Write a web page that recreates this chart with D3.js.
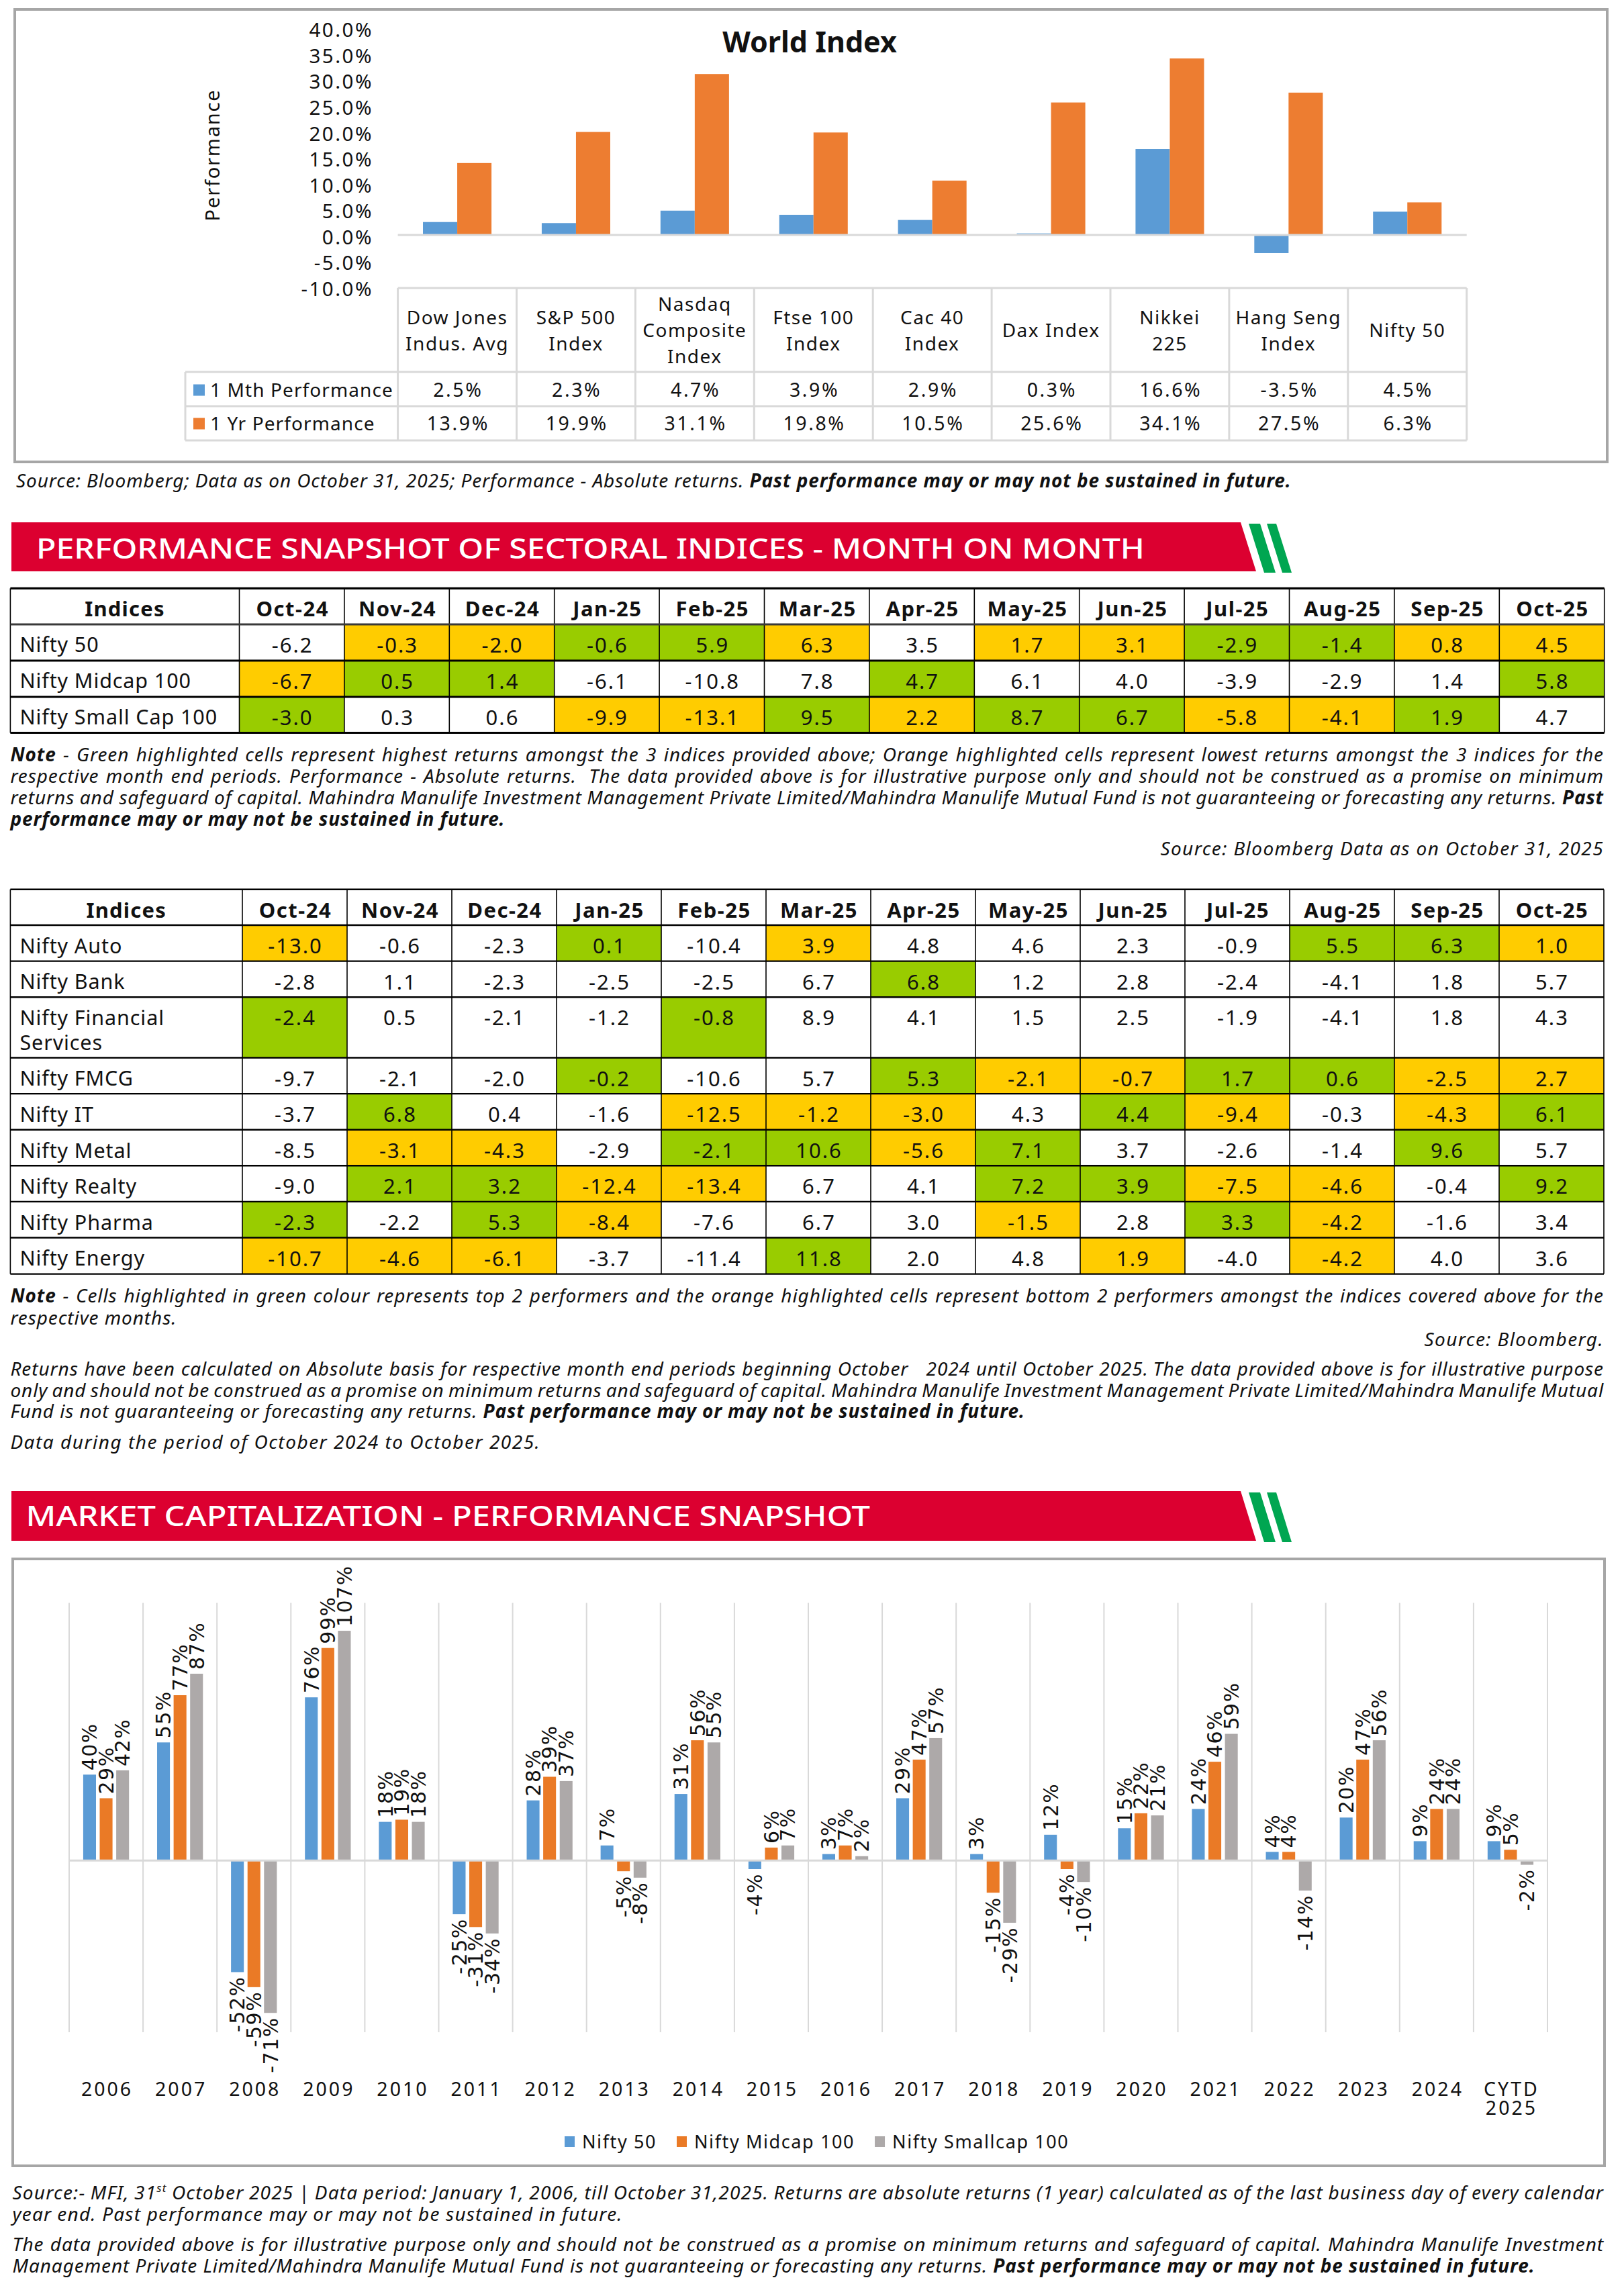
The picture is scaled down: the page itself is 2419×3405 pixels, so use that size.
<!DOCTYPE html>
<html><head><meta charset="utf-8">
<script src="https://cdn.jsdelivr.net/npm/d3@7"></script>
<style>
html,body{margin:0;padding:0;background:#fff;}
svg{display:block;}
</style></head><body>
<svg id="c" width="2419" height="3405"></svg>
<script>
// ================= DATA =================
const worldCats = [["Dow Jones","Indus. Avg"],["S&P 500","Index"],["Nasdaq","Composite","Index"],["Ftse 100","Index"],["Cac 40","Index"],["Dax Index"],["Nikkei","225"],["Hang Seng","Index"],["Nifty 50"]];
const worldSeries = ["1 Mth Performance","1 Yr Performance"];
const worldMonth = [2.5,2.3,4.7,3.9,2.9,0.3,16.6,-3.5,4.5];
const worldYear = [13.9,19.9,31.1,19.8,10.5,25.6,34.1,27.5,6.3];
const worldTicks = [40,35,30,25,20,15,10,5,0,-5,-10];

const months = ["Oct-24","Nov-24","Dec-24","Jan-25","Feb-25","Mar-25","Apr-25","May-25","Jun-25","Jul-25","Aug-25","Sep-25","Oct-25"];

const t1Rows = [["Nifty 50"],["Nifty Midcap 100"],["Nifty Small Cap 100"]];
const t1Values = [
  [-6.2,-0.3,-2.0,-0.6,5.9,6.3,3.5,1.7,3.1,-2.9,-1.4,0.8,4.5],
  [-6.7,0.5,1.4,-6.1,-10.8,7.8,4.7,6.1,4.0,-3.9,-2.9,1.4,5.8],
  [-3.0,0.3,0.6,-9.9,-13.1,9.5,2.2,8.7,6.7,-5.8,-4.1,1.9,4.7]
];
const t1Marks = ["-YYGGY-YYGGYY","YGG---G-----G","G--YYGYGGYYG-"];

const t2Rows = [["Nifty Auto"],["Nifty Bank"],["Nifty Financial","Services"],["Nifty FMCG"],["Nifty IT"],["Nifty Metal"],["Nifty Realty"],["Nifty Pharma"],["Nifty Energy"]];
const t2Values = [
  [-13.0,-0.6,-2.3,0.1,-10.4,3.9,4.8,4.6,2.3,-0.9,5.5,6.3,1.0],
  [-2.8,1.1,-2.3,-2.5,-2.5,6.7,6.8,1.2,2.8,-2.4,-4.1,1.8,5.7],
  [-2.4,0.5,-2.1,-1.2,-0.8,8.9,4.1,1.5,2.5,-1.9,-4.1,1.8,4.3],
  [-9.7,-2.1,-2.0,-0.2,-10.6,5.7,5.3,-2.1,-0.7,1.7,0.6,-2.5,2.7],
  [-3.7,6.8,0.4,-1.6,-12.5,-1.2,-3.0,4.3,4.4,-9.4,-0.3,-4.3,6.1],
  [-8.5,-3.1,-4.3,-2.9,-2.1,10.6,-5.6,7.1,3.7,-2.6,-1.4,9.6,5.7],
  [-9.0,2.1,3.2,-12.4,-13.4,6.7,4.1,7.2,3.9,-7.5,-4.6,-0.4,9.2],
  [-2.3,-2.2,5.3,-8.4,-7.6,6.7,3.0,-1.5,2.8,3.3,-4.2,-1.6,3.4],
  [-10.7,-4.6,-6.1,-3.7,-11.4,11.8,2.0,4.8,1.9,-4.0,-4.2,4.0,3.6]
];
const t2Marks = ["Y--G-Y----GGY","------G------","G---G--------","---G--GYYGGYY","-G--YYY-GY-YG","-YY-GGYG---G-","-GGYY--GGYY-G","G-GY---Y-GY--","YYY--G--Y-Y--"];

const mcYears = ["2006","2007","2008","2009","2010","2011","2012","2013","2014","2015","2016","2017","2018","2019","2020","2021","2022","2023","2024","CYTD 2025"];
const mcSeries = ["Nifty 50","Nifty Midcap 100","Nifty Smallcap 100"];
const mcNifty50 = [40,55,-52,76,18,-25,28,7,31,-4,3,29,3,12,15,24,4,20,9,9];
const mcMidcap = [29,77,-59,99,19,-31,39,-5,56,6,7,47,-15,-4,22,46,4,47,24,5];
const mcSmallcap = [42,87,-71,107,18,-34,37,-8,55,7,2,57,-29,-10,21,59,-14,56,24,-2];

const srcWorld = ["Source: Bloomberg; Data as on October 31, 2025; Performance - Absolute returns. §Past performance may or may not be sustained in future.§"];
const note1Lines = [
 "§Note§ - Green highlighted cells represent highest returns amongst the 3 indices provided above; Orange highlighted cells represent lowest returns amongst the 3 indices for the",
 "respective month end periods. Performance - Absolute returns.  The data provided above is for illustrative purpose only and should not be construed as a promise on minimum",
 "returns and safeguard of capital. Mahindra Manulife Investment Management Private Limited/Mahindra Manulife Mutual Fund is not guaranteeing or forecasting any returns. §Past§",
 "§performance may or may not be sustained in future.§"
];
const note1Source = "Source: Bloomberg Data as on October 31, 2025";
const note2Lines = [
 "§Note§ - Cells highlighted in green colour represents top 2 performers and the orange highlighted cells represent bottom 2 performers amongst the indices covered above for the",
 "respective months."
];
const note2Source = "Source: Bloomberg.";
const note3Lines = [
 "Returns have been calculated on Absolute basis for respective month end periods beginning October   2024 until October 2025. The data provided above is for illustrative purpose",
 "only and should not be construed as a promise on minimum returns and safeguard of capital. Mahindra Manulife Investment Management Private Limited/Mahindra Manulife Mutual",
 "Fund is not guaranteeing or forecasting any returns. §Past performance may or may not be sustained in future.§"
];
const note4 = "Data during the period of October 2024 to October 2025.";
const footLines = [
 "Source:- MFI, 31^st^ October 2025 | Data period: January 1, 2006, till October 31,2025. Returns are absolute returns (1 year) calculated as of the last business day of every calendar",
 "year end. Past performance may or may not be sustained in future.",
 "The data provided above is for illustrative purpose only and should not be construed as a promise on minimum returns and safeguard of capital. Mahindra Manulife Investment",
 "Management Private Limited/Mahindra Manulife Mutual Fund is not guaranteeing or forecasting any returns. §Past performance may or may not be sustained in future.§"
];
const banner1 = "PERFORMANCE SNAPSHOT OF SECTORAL INDICES - MONTH ON MONTH";
const banner2 = "MARKET CAPITALIZATION - PERFORMANCE SNAPSHOT";

// ================= STYLE =================
const FONT = "'Noto Sans', 'DejaVu Sans', sans-serif";
const INK = "#111";
const BLUE = "#5B9BD5", ORANGE = "#ED7D31";
const MC_COLORS = ["#5B9BD5","#EA7A26","#ADA9A9"];
const YEL = "#FFCC00", GRN = "#99CC00";
const RED = "#DC0030", STRIPE = "#00A651";
const GRID = "#D9D9D9";
const NOTE = {size:28, ls:0.9};

const svg = d3.select("#c").attr("font-family", FONT);
svg.append("rect").attr("width",2419).attr("height",3405).attr("fill","#fff");

// ---------- rich text line helper ----------
function richLine(g, str, x0, x1, cy, o) {
  const size = o.size, ls = o.ls || 0;
  const t = g.append("text").attr("y", cy + 0.357*size).attr("font-size", size)
    .attr("font-style", o.italic === false ? "normal" : "italic").attr("fill", INK)
    .attr("letter-spacing", ls);
  let bold = false;
  const tokens = str.split(" ");
  const words = tokens.map(w => {
    const pieces = []; let sup = false; let buf = "";
    for (const ch of w) {
      if (ch === "§") { if (buf) pieces.push({t:buf,b:bold,s:sup}); buf=""; bold=!bold; }
      else if (ch === "^") { if (buf) pieces.push({t:buf,b:bold,s:sup}); buf=""; sup=!sup; }
      else buf += ch;
    }
    if (buf) pieces.push({t:buf,b:bold,s:sup});
    return pieces;
  });
  let shifted = false;
  const wEls = words.map(pieces => pieces.map(p => {
    const ts = t.append("tspan").text(p.t).attr("font-weight", p.b ? 700 : 400);
    if (p.s) { ts.attr("font-size", size*0.6); if (!shifted) { ts.attr("dy", -size*0.38); shifted = true; } }
    else if (shifted) { ts.attr("dy", size*0.38); shifted = false; }
    return ts;
  }));
  const widths = wEls.map(arr => d3.sum(arr, ts => ts.node().getComputedTextLength()));
  const n = words.length;
  const sumW = d3.sum(widths);
  let gap = 0.26*size + ls;
  let x = x0;
  if (o.align === "justify" && n > 1) gap = (x1 - x0 - sumW) / (n - 1);
  else if (o.align === "end") x = x1 - (sumW + gap*(n-1));
  wEls.forEach((arr, i) => {
    if (arr.length) arr[0].attr("x", x);
    x += widths[i] + gap;
  });
  return t;
}
function paragraph(g, lines, x0, x1, cy0, lh, o) {
  lines.forEach((ln, i) => {
    const last = i === lines.length - 1;
    richLine(g, ln, x0, x1, cy0 + i*lh, Object.assign({}, o, {align: (o.justify && !last) ? "justify" : (o.align || "start")}));
  });
}

// ================= WORLD INDEX CHART =================
const gW = svg.append("g");
gW.append("rect").attr("x",22).attr("y",14).attr("width",2372).attr("height",674)
  .attr("fill","none").attr("stroke","#A6A6A6").attr("stroke-width",4);
gW.append("text").attr("x",1206).attr("y",78).attr("text-anchor","middle")
  .attr("font-size",43).attr("font-weight",700).attr("fill",INK).text("World Index");
gW.append("text").attr("transform","translate(327,231) rotate(-90)").attr("text-anchor","middle")
  .attr("font-size",29).attr("letter-spacing",1.8).attr("fill",INK).text("Performance");

const xW = d3.scaleBand().domain(d3.range(worldCats.length)).range([592.6,2184.7]);
const bwW = xW.bandwidth();
const xWs = d3.scaleBand().domain([0,1]).range([bwW*0.2115, bwW*0.7885]);
const yW = d3.scaleLinear().domain([-10,40]).range([427.1,41.6]);

const axW = gW.append("g").attr("transform","translate(559,0)")
  .call(d3.axisLeft(yW).tickValues(worldTicks).tickSize(0).tickPadding(3).tickFormat(d => d.toFixed(1) + "%"));
axW.select(".domain").remove();
axW.selectAll("text").attr("font-size",29.5).attr("font-family",FONT).attr("fill",INK)
  .attr("letter-spacing",2.5).attr("dy","0.45em");

const worldData = worldCats.map((c,i) => ({i, vals:[worldMonth[i], worldYear[i]]}));
gW.selectAll("g.wb").data(worldData).join("g").attr("class","wb")
  .attr("transform", d => `translate(${xW(d.i)},0)`)
  .selectAll("rect").data(d => d.vals.map((v,s) => ({v,s}))).join("rect")
  .attr("x", d => xWs(d.s)).attr("width", xWs.bandwidth())
  .attr("y", d => yW(Math.max(0,d.v))).attr("height", d => Math.abs(yW(d.v) - yW(0)))
  .attr("fill", d => d.s === 0 ? BLUE : ORANGE);
gW.append("line").attr("x1",592.6).attr("x2",2184.7).attr("y1",yW(0)).attr("y2",yW(0))
  .attr("stroke",GRID).attr("stroke-width",3);

// data table under world chart
const tbTop = 429, tbHead = 554, tbR1 = 605, tbBot = 656, tbLeft = 276;
const gT = gW.append("g");
[[592.6,tbTop],[tbLeft,tbHead],[tbLeft,tbR1],[tbLeft,tbBot]].forEach(([xa,yy]) =>
  gT.append("line").attr("x1",xa).attr("x2",2184.7).attr("y1",yy).attr("y2",yy).attr("stroke",GRID).attr("stroke-width",3));
d3.range(worldCats.length+1).forEach(k => {
  const xx = 592.6 + k*bwW;
  gT.append("line").attr("x1",xx).attr("x2",xx).attr("y1",tbTop).attr("y2",tbBot).attr("stroke",GRID).attr("stroke-width",3);
});
gT.append("line").attr("x1",tbLeft).attr("x2",tbLeft).attr("y1",tbHead).attr("y2",tbBot).attr("stroke",GRID).attr("stroke-width",3);
worldCats.forEach((lines,i) => {
  const cx = xW(i) + bwW/2;
  lines.forEach((ln,k) => {
    const cy = 492.5 + (k - (lines.length-1)/2) * 39;
    gT.append("text").attr("x",cx).attr("y",cy + 0.357*28).attr("text-anchor","middle")
      .attr("font-size",28).attr("letter-spacing",1.5).attr("fill",INK).text(ln);
  });
});
[worldMonth, worldYear].forEach((arr,s) => {
  const cy = s === 0 ? 581 : 631;
  gT.append("rect").attr("x",288).attr("y",cy-8.5).attr("width",17).attr("height",17).attr("fill", s===0?BLUE:ORANGE);
  gT.append("text").attr("x",313).attr("y",cy + 0.357*28).attr("font-size",28).attr("letter-spacing",1.1)
    .attr("fill",INK).text(worldSeries[s]);
  gT.selectAll(null).data(arr).join("text")
    .attr("x",(d,i) => xW(i) + bwW/2 + 1.3).attr("y", cy + 0.357*28).attr("text-anchor","middle")
    .attr("font-size",28.5).attr("letter-spacing",2.6).attr("fill",INK).text(d => d.toFixed(1) + "%");
});
paragraph(svg.append("g"), srcWorld, 24, 2389, 716, 32, NOTE);

// ================= BANNERS =================
function banner(y0, y1, text, tx, tEnd, base) {
  const g = svg.append("g");
  g.append("polygon").attr("points", `17,${y0} 1848,${y0} 1871,${y1} 17,${y1}`).attr("fill", RED);
  const sl = (1871-1848)/(y1-y0);
  [[1860,1877],[1887,1901]].forEach(([a,b]) => {
    const ya = y0 + 2, yb = y1 + 2;
    const dx = sl*(yb-ya);
    g.append("polygon").attr("points", `${a},${ya} ${b},${ya} ${b+dx},${yb} ${a+dx},${yb}`).attr("fill", STRIPE);
  });
  g.append("text").attr("x",tx).attr("y",base).attr("font-size",42).attr("font-weight",500)
    .attr("fill","#fff").attr("textLength", tEnd - tx).attr("lengthAdjust","spacingAndGlyphs").text(text);
}
banner(778, 851, banner1, 54, 1705, 832);

// ================= TABLES =================
function drawTable(cfg) {
  const g = svg.append("g");
  const xs = d3.scaleBand().domain(months).range([cfg.xFirst, cfg.xRight]);
  const bw = xs.bandwidth();
  const ys = cfg.rowY;
  cfg.rows.forEach((r,i) => {
    months.forEach((m,j) => {
      const mk = cfg.marks[i][j];
      if (mk !== "-") g.append("rect").attr("x", xs(m)).attr("y", ys[i+1]).attr("width", bw)
        .attr("height", ys[i+2]-ys[i+1]).attr("fill", mk === "G" ? GRN : YEL);
    });
  });
  const hc = ys[0] + cfg.textOff;
  g.append("text").attr("x",(cfg.xLeft+cfg.xFirst)/2).attr("y",hc + 0.357*31).attr("text-anchor","middle")
    .attr("font-size",31).attr("font-weight",700).attr("letter-spacing",1.2).attr("fill",INK).text("Indices");
  g.selectAll(null).data(months).join("text").attr("x", d => xs(d)+bw/2+1).attr("y", hc + 0.357*31)
    .attr("text-anchor","middle").attr("font-size",31).attr("font-weight",700).attr("letter-spacing",1.5)
    .attr("fill",INK).text(d => d);
  cfg.rows.forEach((lines,i) => {
    const cy = ys[i+1] + cfg.textOff;
    const lt = g.append("text").attr("y", cy + 0.357*30.5)
      .attr("font-size",30.5).attr("letter-spacing",0.9).attr("fill",INK);
    lines.forEach((ln,k) => lt.append("tspan").attr("x", cfg.xLeft + 14).attr("dy", k === 0 ? 0 : 37).text(ln));
    g.selectAll(null).data(cfg.values[i]).join("text").attr("x",(d,j) => xs(months[j]) + bw/2 + 1)
      .attr("y", cy + 0.357*31).attr("text-anchor","middle").attr("font-size",31).attr("letter-spacing",2.0)
      .attr("fill",INK).text(d => d.toFixed(1));
  });
  const xBounds = [cfg.xLeft, cfg.xFirst].concat(months.map(m => xs(m)+bw));
  xBounds.forEach(xx => g.append("line").attr("x1",xx).attr("x2",xx).attr("y1",ys[0]).attr("y2",ys[ys.length-1])
    .attr("stroke","#000").attr("stroke-width",1.6));
  ys.forEach((yy,k) => g.append("line").attr("x1",cfg.xLeft).attr("x2",cfg.xRight).attr("y1",yy).attr("y2",yy)
    .attr("stroke", (k===1 && cfg.headGray) ? "#3a3a3a" : "#000").attr("stroke-width", cfg.hw));
}
drawTable({xLeft:15.4, xFirst:356.5, xRight:2389.7, rowY:[876.4,930,984,1038,1091.5], rows:t1Rows,
  values:t1Values, marks:t1Marks, textOff:30.5, hw:3.2, headGray:true});

const np = svg.append("g");
paragraph(np, note1Lines, 15.4, 2389, 1124, 32, Object.assign({justify:true}, NOTE));
richLine(np, note1Source, 15.4, 2389, 1264.5, Object.assign({}, NOTE, {align:"end", ls:1.4}));

drawTable({xLeft:15.4, xFirst:361, xRight:2389, rowY:[1324.7,1378,1431.6,1485.2,1575.5,1629.1,1682.7,1736.3,1789.9,1843.5,1897.6],
  rows:t2Rows, values:t2Values, marks:t2Marks, textOff:31, hw:2.4, headGray:false});

paragraph(np, note2Lines, 15.4, 2389, 1929.7, 33, Object.assign({justify:true}, NOTE));
richLine(np, note2Source, 15.4, 2389, 1994.6, Object.assign({}, NOTE, {align:"end", ls:1.4}));
paragraph(np, note3Lines, 15.4, 2389, 2039, 31.7, Object.assign({justify:true}, NOTE));
richLine(np, note4, 15.4, 2389, 2148.5, Object.assign({}, NOTE, {ls:1.5}));

// ================= MARKET CAP CHART =================
banner(2221, 2295, banner2, 38.6, 1296, 2273);
const gM = svg.append("g");
gM.append("rect").attr("x",19).attr("y",2322).attr("width",2371).attr("height",904)
  .attr("fill","none").attr("stroke","#A6A6A6").attr("stroke-width",4);
const mcX = d3.scaleBand().domain(mcYears).range([103,2305]);
const mbw = mcX.bandwidth();
const mcSub = d3.scaleBand().domain([0,1,2]).range([mbw*0.19, mbw*0.81]).paddingInner(0.2245);
const mcY = d3.scaleLinear().domain([-80,120]).range([3027,2387.5]);
gM.selectAll("line.vg").data(d3.range(mcYears.length+1)).join("line").attr("class","vg")
  .attr("x1", k => 103 + k*mbw).attr("x2", k => 103 + k*mbw).attr("y1", mcY(120)).attr("y2", mcY(-80))
  .attr("stroke", GRID).attr("stroke-width", 2);
const mcData = mcYears.map((yr,i) => ({yr, vals:[mcNifty50[i], mcMidcap[i], mcSmallcap[i]]}));
const grp = gM.selectAll("g.mg").data(mcData).join("g").attr("class","mg")
  .attr("transform", d => `translate(${mcX(d.yr)},0)`);
grp.selectAll("rect").data(d => d.vals.map((v,s) => ({v,s}))).join("rect")
  .attr("x", d => mcSub(d.s)).attr("width", mcSub.bandwidth())
  .attr("y", d => mcY(Math.max(0,d.v))).attr("height", d => Math.abs(mcY(d.v) - mcY(0)))
  .attr("fill", d => MC_COLORS[d.s]);
gM.append("line").attr("x1",103).attr("x2",2305).attr("y1",mcY(0)).attr("y2",mcY(0))
  .attr("stroke",GRID).attr("stroke-width",3);
grp.selectAll("text.dl").data(d => d.vals.map((v,s) => ({v,s}))).join("text").attr("class","dl")
  .attr("transform", d => {
    const cx = mcSub(d.s) + mcSub.bandwidth()/2;
    const ty = d.v >= 0 ? mcY(d.v) - 6 : mcY(d.v) + 6;
    return `translate(${cx},${ty}) rotate(-90)`;
  })
  .attr("text-anchor", d => d.v >= 0 ? "start" : "end").attr("dy","0.36em")
  .attr("font-family","'DejaVu Sans', sans-serif").attr("font-size",30).attr("letter-spacing",1.5).attr("fill",INK)
  .text(d => d.v + "%");
// category labels (multi-line labels kept in one text element)
mcYears.forEach(yr => {
  const t = gM.append("text").attr("y", 3112 + 0.357*28.5).attr("text-anchor","middle")
    .attr("font-size",28.5).attr("letter-spacing",3).attr("fill",INK);
  yr.split(" ").forEach((p,k) => t.append("tspan").attr("x", mcX(yr) + mbw/2 + 1.5).attr("dy", k === 0 ? 0 : 28).text(p));
});
let lx = 841;
mcSeries.forEach((s,i) => {
  gM.append("rect").attr("x",lx).attr("y",3190-8).attr("width",15).attr("height",16).attr("fill",MC_COLORS[i]);
  const t = gM.append("text").attr("x",lx+26).attr("y",3190+0.357*27).attr("font-size",27).attr("letter-spacing",1.6)
    .attr("fill",INK).text(s);
  lx = lx + 26 + t.node().getComputedTextLength() + 30;
});

const fg = svg.append("g");
paragraph(fg, footLines.slice(0,2), 18.5, 2389, 3266, 32, Object.assign({justify:true}, NOTE, {ls:1.2}));
paragraph(fg, footLines.slice(2,4), 18.5, 2389, 3343, 32.5, Object.assign({justify:true}, NOTE));
</script>
</body></html>
